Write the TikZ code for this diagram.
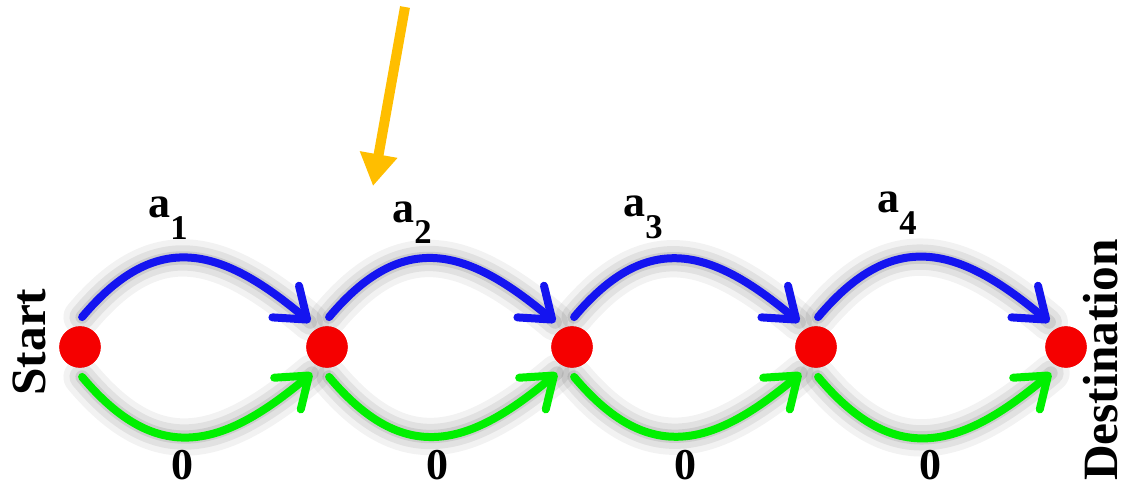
\documentclass[tikz,border=0pt]{standalone}
\usepackage{fontspec}
\setmainfont{Liberation Serif}
\usetikzlibrary{arrows.meta}
\definecolor{arcblue}{RGB}{20,20,240}
\definecolor{arcgreen}{RGB}{0,240,0}
\definecolor{arcred}{RGB}{245,0,0}
\definecolor{pointer}{RGB}{255,190,0}
\begin{document}
\begin{tikzpicture}[x=0.75pt,y=-0.75pt,
  dot/.style={circle,fill=arcred,draw=none,minimum size=31pt,inner sep=0pt,outer sep=7pt},
  barb/.style={-{Straight Barb[length=21pt,width=31pt,line cap=round,line join=round]}},
  bluearc/.style={draw=arcblue,line width=6pt,line cap=round,barb},
  greenarc/.style={draw=arcgreen,line width=6pt,line cap=round,barb},
  upper/.style={out=50,in=140,looseness=1.3},
  lower/.style={out=-50,in=220,looseness=1.3},
  shadowA/.style={draw=black,opacity=0.05,line width=28pt,line cap=round},
  shadowB/.style={draw=black,opacity=0.07,line width=19pt,line cap=round},
  shadowC/.style={draw=black,opacity=0.09,line width=10pt,line cap=round},
  lbl/.style={font=\bfseries\fontsize{33}{33}\selectfont,inner sep=0pt},
  sidelbl/.style={font=\bfseries\fontsize{37}{37}\selectfont,inner sep=0pt,rotate=90}]
\useasboundingbox (0,0) rectangle (1126,488);
\clip (0,0) rectangle (1126,488);
\node[dot] (n1) at (80,347) {};
\node[dot] (n2) at (327,347) {};
\node[dot] (n3) at (572,347) {};
\node[dot] (n4) at (816,347) {};
\node[dot] (n5) at (1066,347) {};
% shadows
\foreach \a/\b in {n1/n2,n2/n3,n3/n4,n4/n5}{
  \begin{scope}[shift={(12,4)}]
    \foreach \s in {shadowA,shadowB,shadowC}{
      \path[\s] (\a.86) to[upper] (\b.124);
      \path[\s] (\a.274) to[lower] (\b.240);
    }
  \end{scope}
}
% redraw dots above shadows
\foreach \n in {n1,n2,n3,n4,n5}{\fill[arcred] (\n) circle (15.5pt);}
% arcs
\foreach \a/\b in {n1/n2,n2/n3,n3/n4,n4/n5}{
  \draw[bluearc] (\a.86) to[upper] (\b.124);
  \draw[greenarc] (\a.274) to[lower] (\b.240);
}
% labels
\node[lbl,anchor=base west] (la1) at (148,218) {a\raisebox{-16pt}{\fontsize{26}{26}\selectfont 1}};
\node[lbl,anchor=base west] (la2) at (392,222) {a\raisebox{-16pt}{\fontsize{26}{26}\selectfont 2}};
\node[lbl,anchor=base west] (la3) at (623,217) {a\raisebox{-16pt}{\fontsize{26}{26}\selectfont 3}};
\node[lbl,anchor=base west] (la4) at (877,213) {a\raisebox{-16pt}{\fontsize{26}{26}\selectfont 4}};
\node[lbl,anchor=base] (l01) at (182,479) {0};
\node[lbl,anchor=base] (l02) at (437,479) {0};
\node[lbl,anchor=base] (l03) at (685,479) {0};
\node[lbl,anchor=base] (l04) at (930,479) {0};
\node[sidelbl] (start) at (29,342) {Start};
\node[sidelbl,anchor=base west] (dest) at (1117,481) {Destination};
% pointer arrow
\coordinate (ptail) at (405,7);
\coordinate (phead) at (373,186);
\draw[pointer,line width=7.5pt,-{Triangle[length=24pt,width=27pt]}] (ptail) -- (phead);
\end{tikzpicture}
\end{document}
